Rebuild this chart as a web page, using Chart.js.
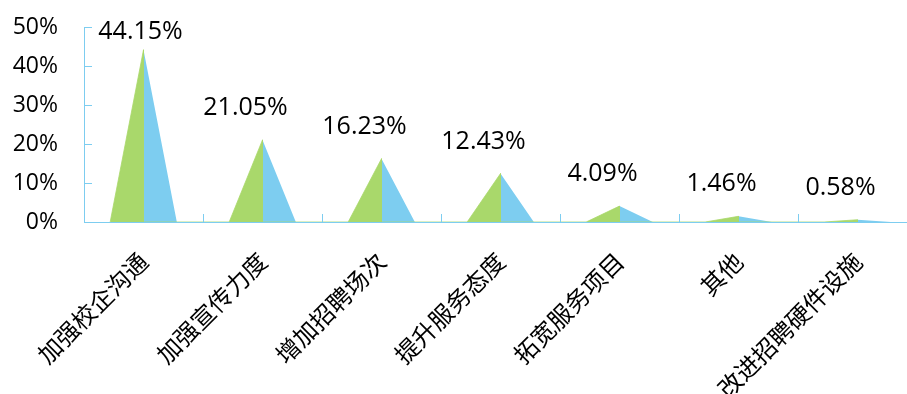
<!DOCTYPE html>
<html>
<head>
<meta charset="utf-8">
<script src="https://cdn.jsdelivr.net/npm/chart.js@4.4.0/dist/chart.umd.min.js"></script>
<style>
  html, body { margin: 0; padding: 0; background: #fff; overflow: hidden; }
  #wrap { width: 917px; height: 394px; position: relative; }
</style>
</head>
<body>
<div id="wrap"><canvas id="c"></canvas></div>
<script>
const categories = ['加强校企沟通', '加强宣传力度', '增加招聘场次', '提升服务态度', '拓宽服务项目', '其他', '改进招聘硬件设施'];
const values = [44.15, 21.05, 16.23, 12.43, 4.09, 1.46, 0.58];
const valueLabels = ['44.15%', '21.05%', '16.23%', '12.43%', '4.09%', '1.46%', '0.58%'];
const yTicks = [0, 10, 20, 30, 40, 50];

const GREEN = '#A9D86B';
const BLUE = '#7DCDF0';
const AXIS = '#7DCDF0';
const HALF = 0.28;
const LATIN = "'Open Sans', 'Noto Sans CJK SC', sans-serif";
const CJK = "'Noto Sans CJK SC', sans-serif";

const greenPts = [], bluePts = [];
values.forEach((v, i) => {
  greenPts.push({x: i - HALF, y: 0}, {x: i, y: v}, {x: i, y: 0});
  bluePts.push({x: i, y: 0}, {x: i, y: v}, {x: i + HALF, y: 0});
});

const decor = {
  id: 'decor',
  afterDatasetsDraw(chart) {
    const ctx = chart.ctx;
    const ys = chart.scales.y, x2 = chart.scales.x2;
    const area = chart.chartArea;
    ctx.save();
    ctx.strokeStyle = AXIS;
    ctx.lineWidth = 1;
    yTicks.forEach(t => {
      const py = Math.round(ys.getPixelForValue(t)) + 0.5;
      ctx.beginPath();
      ctx.moveTo(area.left, py);
      ctx.lineTo(area.left + 8, py);
      ctx.stroke();
    });
    for (let k = 0; k <= categories.length; k++) {
      const px = Math.round(x2.getPixelForValue(k - 0.5)) + 0.5;
      ctx.beginPath();
      ctx.moveTo(px, area.bottom);
      ctx.lineTo(px, area.bottom - 8);
      ctx.stroke();
    }
    ctx.fillStyle = '#000';
    ctx.font = "25px " + LATIN;
    ctx.textAlign = 'center';
    ctx.textBaseline = 'middle';
    values.forEach((v, i) => {
      const px = x2.getPixelForValue(i);
      const py = ys.getPixelForValue(v);
      let ly = py - 32, lx = px - 17;
      if (ly < area.top + 5) { ly = area.top + 5; lx = px - 3; }
      ctx.fillText(valueLabels[i], lx, ly);
    });
    ctx.restore();
  }
};

new Chart(document.getElementById('c'), {
  type: 'line',
  data: {
    labels: categories,
    datasets: [
      { data: greenPts, xAxisID: 'x2', backgroundColor: GREEN, borderColor: GREEN, borderWidth: 0.8, fill: 'origin', pointRadius: 0, tension: 0 },
      { data: bluePts, xAxisID: 'x2', backgroundColor: BLUE, borderColor: 'rgba(0,0,0,0)', borderWidth: 0, fill: 'origin', pointRadius: 0, tension: 0 }
    ]
  },
  options: {
    responsive: true,
    maintainAspectRatio: false,
    animation: false,
    layout: { padding: { top: 27, right: 0, left: 0, bottom: 0 } },
    plugins: { legend: { display: false }, tooltip: { enabled: false } },
    scales: {
      x: {
        type: 'category',
        offset: true,
        grid: { display: false, drawTicks: false },
        border: { display: true, color: AXIS, width: 1 },
        ticks: {
          minRotation: 45, maxRotation: 45, autoSkip: false,
          padding: 25, color: '#000',
          font: { size: 24, family: CJK }
        },
        afterFit(s) { s.height = 172; s.paddingLeft = 0; s.paddingRight = 0; }
      },
      x2: { type: 'linear', min: -0.5, max: 6.5, display: false },
      y: {
        min: 0, max: 50,
        grid: { display: false, drawTicks: false },
        border: { display: true, color: AXIS, width: 1 },
        ticks: {
          stepSize: 10, padding: 26, color: '#000',
          font: { size: 23, family: LATIN },
          callback: v => v + '%'
        },
        afterFit(s) { s.width = 84; s.paddingTop = 0; s.paddingBottom = 0; }
      }
    }
  },
  plugins: [decor]
});
</script>
</body>
</html>
